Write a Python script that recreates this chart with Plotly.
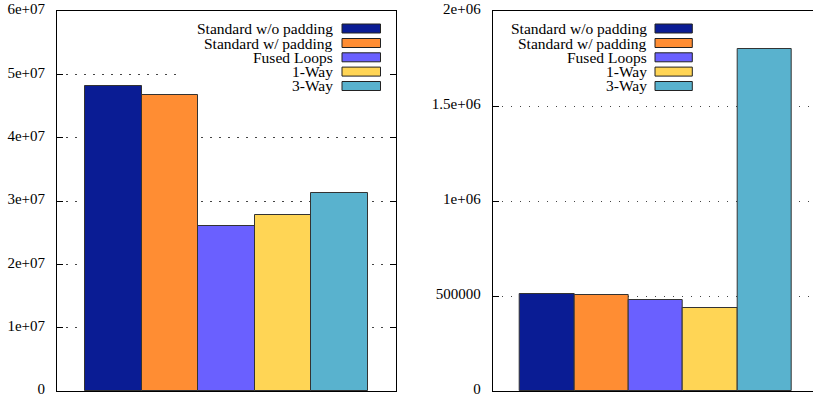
import plotly.graph_objects as go

series = ["Standard w/o padding", "Standard w/ padding", "Fused Loops", "1-Way", "3-Way"]
colors = ["#0a1c94", "#ff8d33", "#6a60ff", "#ffd555", "#59b2ce"]
left_values = [48.1e6, 46.7e6, 26.1e6, 27.8e6, 31.3e6]
right_values = [512000, 507000, 480000, 435000, 1800000]

left_tickvals = [0, 1e7, 2e7, 3e7, 4e7, 5e7, 6e7]
left_ticktext = ["0", "1e+07", "2e+07", "3e+07", "4e+07", "5e+07", "6e+07"]
right_tickvals = [0, 5e5, 1e6, 1.5e6, 2e6]
right_ticktext = ["0", "500000", "1e+06", "1.5e+06", "2e+06"]

W, H = 813, 397
MT, MB = 11, 6
PH = H - MT - MB
FONT = "Liberation Serif"

def px(x):
    return x / W

def py(y):
    return (H - MB - y) / PH

fig = go.Figure()
for i, (name, col) in enumerate(zip(series, colors)):
    fig.add_trace(go.Bar(x=[i], y=[left_values[i]], width=1, name=name,
                         marker=dict(color=col, line=dict(color="#333333", width=1)),
                         showlegend=False, xaxis="x", yaxis="y"))
    fig.add_trace(go.Bar(x=[i], y=[right_values[i]], width=1, name=name,
                         marker=dict(color=col, line=dict(color="#333333", width=1)),
                         showlegend=False, xaxis="x2", yaxis="y2"))

grid = dict(showgrid=True, gridcolor="#444444", griddash="1.5px,7.5px", gridwidth=1)
common_y = dict(ticks="inside", ticklen=6, tickcolor="black", showline=True, linecolor="black",
                linewidth=1, zeroline=False, ticklabelstandoff=8, ticklabeloverflow="allow",
                ticklabelshift=-2,
                tickfont=dict(family=FONT, size=15, color="black"), **grid)
common_x = dict(showline=True, linecolor="black", linewidth=1, mirror=True, showticklabels=False,
                ticks="", showgrid=False, zeroline=False)

fig.update_layout(
    width=W, height=H,
    margin=dict(l=0, r=0, t=MT, b=MB),
    plot_bgcolor="white", paper_bgcolor="white",
    font=dict(family=FONT, size=15, color="black"),
    bargap=0,
    xaxis=dict(domain=[px(57), px(396)], range=[-1, 5], anchor="y", **common_x),
    yaxis=dict(domain=[0, 1], range=[0, 6e7], anchor="x", mirror="allticks",
               tickvals=left_tickvals, ticktext=left_ticktext, **common_y),
    xaxis2=dict(domain=[px(492.7), 1.0], range=[-1, -1 + (W - 492.7) / 54.4], anchor="y2", **common_x),
    yaxis2=dict(domain=[0, 1], range=[0, 2e6], anchor="x2", mirror=False,
                tickvals=right_tickvals, ticktext=right_ticktext, **common_y),
)

# gnuplot-style legends: right-aligned text with the swatch on its right
shapes = []
annotations = []
shapes.append(dict(type="rect", xref="paper", yref="paper",
                   x0=px(180), x1=px(388), y0=py(93), y1=py(18),
                   fillcolor="white", line=dict(width=0), layer="above"))
row_y = [28.5, 43, 57.3, 71.6, 86]
for text_right, box_x0, box_x1 in [(334, 342, 380.5), (647.5, 655, 692.3)]:
    for i, (name, col) in enumerate(zip(series, colors)):
        yc = row_y[i]
        shapes.append(dict(type="rect", xref="paper", yref="paper",
                           x0=px(box_x0), x1=px(box_x1), y0=py(yc + 4.5), y1=py(yc - 4.5),
                           fillcolor=col, line=dict(color="#222222", width=1), layer="above"))
        annotations.append(dict(text=name, xref="paper", yref="paper", x=px(text_right), y=py(yc),
                                xanchor="right", yanchor="middle", showarrow=False,
                                borderpad=0,
                                font=dict(family=FONT, size=15.5, color="black")))
fig.update_layout(shapes=shapes, annotations=annotations)

fig.write_html("out.html", config={"displayModeBar": False},
               post_script="document.body.style.margin='0';document.body.style.overflow='hidden';")
